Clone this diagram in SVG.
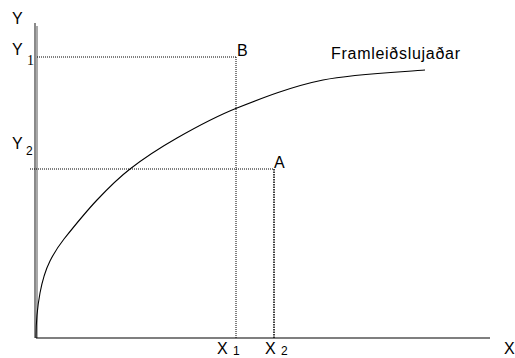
<svg xmlns="http://www.w3.org/2000/svg" width="515" height="358" viewBox="0 0 515 358">
<style>
.t{font-family:"Liberation Sans",Arial,sans-serif;font-size:16px;fill:#000}
.s{font-family:"Liberation Sans",Arial,sans-serif;font-size:12px;fill:#000}
.dot{stroke:#000;stroke-width:1;stroke-dasharray:1 1;fill:none}
.dot2{stroke:#000;stroke-width:1.5;stroke-dasharray:1.5 1;fill:none}
</style>
<rect width="515" height="358" fill="#fff"/>
<g id="axes">
<rect x="34" y="23" width="2" height="315" fill="#8a8a8a"/>
<line x1="37" y1="26" x2="37" y2="338" stroke="#555" stroke-width="1"/>
<line x1="36" y1="338" x2="490" y2="338" stroke="#000" stroke-width="1.2"/>
</g>
<g id="connectors">
<line class="dot" x1="37" y1="57" x2="236" y2="57"/>
<line class="dot" x1="236" y1="57" x2="236" y2="338"/>
<line class="dot" x1="30" y1="169" x2="274" y2="169"/>
<line class="dot2" x1="274" y1="169" x2="274" y2="338"/>
</g>
<g id="curve">
<path fill="none" stroke="#000" stroke-width="1.1" d="M36,338 C36,320 37.67,305.5 40,293 C42.33,280.5 45.5,270 50,261 C54.5,252 57,248 64,239 C72,229 85.83,211.83 97,200 C108.17,188.17 116.67,179.33 130,169 C143.33,158.67 159.17,148.17 177,138 C194.83,127.83 212.67,117.67 237,108 C261.33,98.33 291.67,86.33 323,80 C354.33,73.67 408,71.67 425,70"/>
</g>
<g id="labels">
<text class="t" x="12" y="24">Y</text>
<text class="t" x="12" y="55">Y</text>
<text x="27" y="65" style="font-family:'Liberation Serif','Times New Roman',serif;font-size:14px">1</text>
<text class="t" x="12" y="149">Y</text>
<text class="s" x="26" y="155">2</text>
<text class="t" x="237" y="56">B</text>
<text class="t" x="274" y="168">A</text>
<text class="t" x="331" y="59" textLength="129" lengthAdjust="spacing">Framleiðslujaðar</text>
<text class="t" x="217" y="354">X</text>
<text class="s" x="233" y="355">1</text>
<text class="t" x="265" y="354">X</text>
<text class="s" x="281" y="355">2</text>
<text class="t" x="504" y="354">X</text>
</g>
</svg>
